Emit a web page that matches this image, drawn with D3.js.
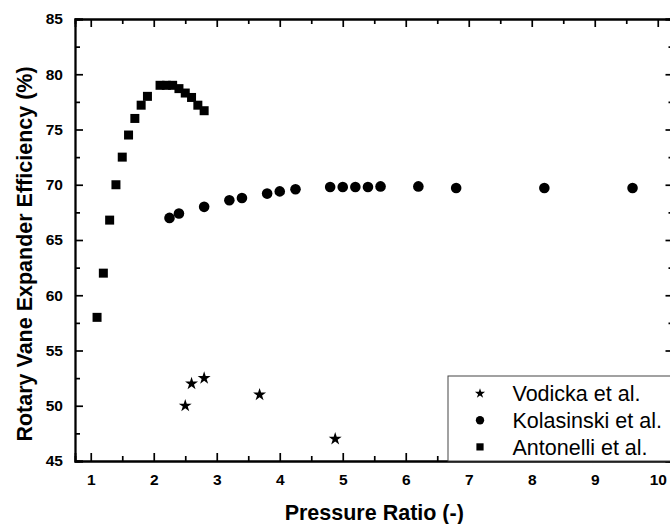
<!DOCTYPE html>
<html>
<head>
<meta charset="utf-8">
<script src="https://cdn.jsdelivr.net/npm/d3@7"></script>
<style>
  body { margin: 0; background: #fff; }
  text { font-family: "Liberation Sans", Arial, sans-serif; fill: #000; }
</style>
</head>
<body>
<div id="chart"></div>
<script>
// data
const vodickaPR  = [2.5, 2.6, 2.8, 3.68, 4.88];
const vodickaEff = [50, 52, 52.5, 51, 47];

const kolasinskiPR  = [2.25, 2.4, 2.8, 3.2, 3.4, 3.8, 4.0, 4.25, 4.8, 5.0, 5.2, 5.4, 5.6, 6.2, 6.8, 8.2, 9.6];
const kolasinskiEff = [67, 67.4, 68, 68.6, 68.8, 69.2, 69.4, 69.6, 69.8, 69.8, 69.8, 69.8, 69.85, 69.85, 69.7, 69.7, 69.7];

const antonelliPR  = [1.1, 1.2, 1.3, 1.4, 1.5, 1.6, 1.7, 1.8, 1.9, 2.1, 2.2, 2.3, 2.4, 2.5, 2.6, 2.7, 2.8];
const antonelliEff = [58, 62, 66.8, 70, 72.5, 74.5, 76, 77.2, 78, 79, 79, 79, 78.7, 78.3, 77.9, 77.2, 76.7];

const xTicks = [1, 2, 3, 4, 5, 6, 7, 8, 9, 10];
const yTicks = [45, 50, 55, 60, 65, 70, 75, 80, 85];
const legendLabels = ["Vodicka et al.", "Kolasinski et al.", "Antonelli et al."];

const W = 670, H = 524;
const plotL = 75, plotR = 673.5, plotT = 19, plotB = 461;

const svg = d3.select("#chart").append("svg")
    .attr("width", W)
    .attr("height", H);

const x = d3.scaleLinear().domain([0.75, 10.25]).range([plotL, plotR]);
const y = d3.scaleLinear().domain([45, 85]).range([plotB, plotT]);

const xMinor = d3.range(1.5, 10.25, 1);
const yMinor = d3.range(47.5, 85, 5);

function styleAxis(g) {
    g.select(".domain").attr("stroke", "#000").attr("stroke-width", 1.8);
    g.selectAll(".tick line").attr("stroke", "#000").attr("stroke-width", 1.7);
    g.selectAll(".tick text")
        .style("font-size", "15.5px")
        .style("font-weight", "bold")
        .attr("fill", "#000");
}

// bottom axis
svg.append("g")
    .attr("transform", `translate(0,${plotB})`)
    .call(d3.axisBottom(x).tickValues(xTicks).tickSize(-8).tickPadding(13).tickFormat(d3.format("d")))
    .call(styleAxis);
svg.append("g")
    .attr("transform", `translate(0,${plotB})`)
    .call(d3.axisBottom(x).tickValues(xMinor).tickSize(-5).tickFormat(""))
    .call(styleAxis);

// top axis
svg.append("g")
    .attr("transform", `translate(0,${plotT})`)
    .call(d3.axisTop(x).tickValues(xTicks).tickSize(-8).tickFormat(""))
    .call(styleAxis);
svg.append("g")
    .attr("transform", `translate(0,${plotT})`)
    .call(d3.axisTop(x).tickValues(xMinor).tickSize(-5).tickFormat(""))
    .call(styleAxis);

// left axis
svg.append("g")
    .attr("transform", `translate(${plotL},0)`)
    .call(d3.axisLeft(y).tickValues(yTicks).tickSize(-8).tickPadding(12).tickFormat(d3.format("d")))
    .call(styleAxis);
svg.append("g")
    .attr("transform", `translate(${plotL},0)`)
    .call(d3.axisLeft(y).tickValues(yMinor).tickSize(-5).tickFormat(""))
    .call(styleAxis);

// right axis
svg.append("g")
    .attr("transform", `translate(${plotR},0)`)
    .call(d3.axisRight(y).tickValues(yTicks).tickSize(-8).tickFormat(""))
    .call(styleAxis);
svg.append("g")
    .attr("transform", `translate(${plotR},0)`)
    .call(d3.axisRight(y).tickValues(yMinor).tickSize(-5).tickFormat(""))
    .call(styleAxis);

// axis titles
svg.append("text")
    .attr("x", (plotL + plotR) / 2)
    .attr("y", 520)
    .attr("text-anchor", "middle")
    .style("font-size", "21.5px")
    .style("font-weight", "bold")
    .text("Pressure Ratio (-)");

svg.append("text")
    .attr("transform", "translate(31.5,254) rotate(-90)")
    .attr("text-anchor", "middle")
    .style("font-size", "21.5px")
    .style("font-weight", "bold")
    .text("Rotary Vane Expander Efficiency (%)");

// series
const series = [
    { pr: vodickaPR, eff: vodickaEff, sym: d3.symbolStar, size: 52, legendSize: 32 },
    { pr: kolasinskiPR, eff: kolasinskiEff, sym: d3.symbolCircle, size: 88, legendSize: 55 },
    { pr: antonelliPR, eff: antonelliEff, sym: d3.symbolSquare, size: 81, legendSize: 52 }
];

series.forEach(s => {
    svg.append("g")
        .selectAll("path")
        .data(d3.zip(s.pr, s.eff))
        .join("path")
        .attr("transform", d => `translate(${x(d[0])},${y(d[1])})`)
        .attr("d", d3.symbol(s.sym, s.size))
        .attr("fill", "#000");
});

// legend
const lg = svg.append("g").attr("transform", "translate(448,376)");
lg.append("rect")
    .attr("width", 260)
    .attr("height", plotB - 376)
    .attr("fill", "#fff")
    .attr("stroke", "#444")
    .attr("stroke-width", 1);

series.forEach((s, i) => {
    const row = lg.append("g").attr("transform", `translate(0,${17.5 + i * 26.7})`);
    row.append("path")
        .attr("transform", "translate(32,0)")
        .attr("d", d3.symbol(s.sym, s.legendSize))
        .attr("fill", "#000");
    row.append("text")
        .attr("x", 64.5)
        .attr("y", 7.7)
        .style("font-size", "21.5px")
        .text(legendLabels[i]);
});
</script>
</body>
</html>
